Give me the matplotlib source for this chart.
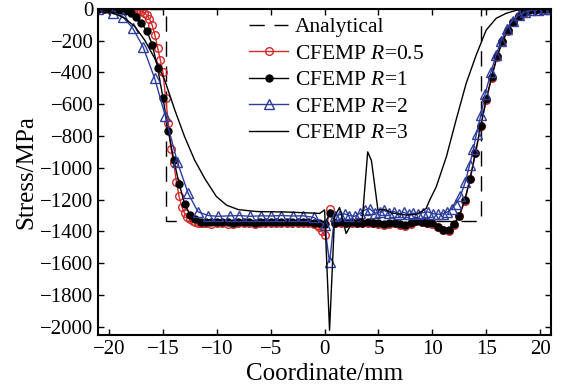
import numpy as np
import matplotlib
matplotlib.use('Agg')
import matplotlib.pyplot as plt

plt.rcParams['font.family'] = ['Liberation Serif', 'DejaVu Serif']
plt.rcParams['mathtext.fontset'] = 'custom'
plt.rcParams['mathtext.it'] = 'Liberation Serif:italic'
plt.rcParams['mathtext.rm'] = 'Liberation Serif'

# analytical solution (step)
x_an = [-21, -14.75, -14.75, 14.5, 14.5, 21]
y_an = [0, 0, -1335, -1335, 0, 0]

# CFEMP R=0.5
x_r05 = [-21, -20.5, -20, -19.5, -19, -18.5, -18, -17.75, -17.5, -17.25, -17, -16.75,
         -16.5, -16.25, -16, -15.75, -15.5, -15.25, -15, -14.75, -14.5, -14.25, -14,
         -13.75, -13.5, -13.25, -13, -12.75, -12.5, -12.25, -12, -11.75, -11.5, -11.25,
         -11, -10.5, -10, -9.5, -9, -8.5, -8, -7.5, -7, -6.5, -6, -5.5, -5, -4.5, -4,
         -3.5, -3, -2.5, -2, -1.5, -1, -0.75, -0.5, -0.25, 0, 0.5, 1, 1.5, 2, 2.5, 3,
         3.5, 4, 4.5, 5, 5.5, 6, 6.5, 7, 7.5, 8, 8.5, 9, 9.5, 10, 10.5, 11, 11.5, 12,
         12.5, 13, 13.5, 14, 14.5, 15, 15.5, 16, 16.5, 17, 17.5, 18, 18.5, 19, 19.5,
         20, 20.5, 21]
y_r05 = [0, 0, 0, 0, -1, -2, -4, -5, -7, -10, -16, -25,
         -40, -65, -103, -165, -245, -320, -400, -560, -720, -880, -970,
         -1090, -1180, -1245, -1285, -1310, -1325, -1335, -1342, -1346, -1348, -1350,
         -1350, -1352, -1350, -1348, -1352, -1355, -1350, -1348, -1350, -1352, -1350,
         -1348, -1346, -1348, -1350, -1348, -1346, -1348, -1350, -1350, -1352, -1360,
         -1375, -1400, -1425, -1262, -1348, -1345, -1350, -1347, -1350, -1350, -1347,
         -1350, -1355, -1357, -1353, -1350, -1357, -1363, -1353, -1337, -1343, -1350,
         -1355, -1375, -1393, -1395, -1360, -1305, -1210, -1073, -910, -740, -573,
         -435, -305, -210, -140, -85, -47, -24, -11, -6, -3, -1, 0]

# CFEMP R=1
x_r1 = [-21, -20.5, -20, -19.5, -19, -18.5, -18, -17.5, -17, -16.5, -16, -15.5, -15,
        -14.5, -14, -13.5, -13, -12.5, -12, -11.5, -11, -10.5, -10, -9.5, -9, -8.5, -8,
        -7.5, -7, -6.5, -6, -5.5, -5, -4.5, -4, -3.5, -3, -2.5, -2, -1.5, -1, -0.5, 0,
        0.5, 1, 1.5, 2, 2.5, 3, 3.5, 4, 4.5, 5, 5.5, 6, 6.5, 7, 7.5, 8, 8.5, 9, 9.5,
        10, 10.5, 11, 11.5, 12, 12.5, 13, 13.5, 14, 14.5, 15, 15.5, 16, 16.5, 17, 17.5,
        18, 18.5, 19, 19.5, 20, 20.5, 21]
y_r1 = [-1, -2, -3, -5, -8, -14, -28, -50, -90, -140, -225, -370, -560,
        -770, -950, -1100, -1225, -1295, -1325, -1338, -1342, -1343, -1342, -1340,
        -1342, -1345, -1343, -1340, -1342, -1344, -1342, -1340, -1338, -1340, -1342,
        -1340, -1338, -1340, -1342, -1340, -1345, -1350, -1355, -1285, -1345, -1340,
        -1345, -1342, -1345, -1345, -1342, -1345, -1350, -1352, -1348, -1345, -1352,
        -1358, -1348, -1332, -1338, -1345, -1350, -1370, -1388, -1390, -1355, -1300,
        -1205, -1068, -905, -735, -568, -430, -300, -205, -135, -82, -45, -22, -10, -5,
        -2, -1, 0]

# CFEMP R=2
x_r2 = [-21, -19.6, -18.7, -17.8, -16.85, -15.77, -14.78, -13.67, -12.66, -11.75,
        -10.8, -9.9, -8.8, -7.9, -6.96, -5.87, -4.94, -4.0, -2.94, -2.0, -1.0, 0.0,
        0.46, 0.93, 1.4, 1.85, 2.3, 2.8, 3.3, 3.75, 4.2, 4.65, 5.1, 5.55, 6.0, 6.45,
        6.9, 7.35, 7.8, 8.25, 8.7, 9.15, 9.6, 10.05, 10.5, 10.95, 11.4, 11.8, 12.2,
        12.6, 13.05, 13.45, 13.8, 14.1, 14.5, 14.9, 15.45, 15.9, 16.4, 16.9, 17.45,
        18.0, 18.6, 19.2, 19.8, 20.4, 20.9]
y_r2 = [-3, -25, -52, -123, -239, -438, -675, -962, -1161, -1277,
        -1300, -1305, -1302, -1300, -1305, -1302, -1303, -1300, -1303, -1302, -1312,
        -1360, -1595, -1305, -1295, -1290, -1300, -1305, -1285, -1265, -1258, -1285,
        -1280, -1268, -1285, -1275, -1290, -1280, -1292, -1285, -1290, -1282, -1278,
        -1288, -1292, -1290, -1278, -1258, -1225, -1180, -1090, -985, -885, -785,
        -670, -535, -398, -292, -200, -125, -75, -42, -22, -10, -5, -2, 0]

# CFEMP R=3
x_r3 = [-21, -20.8, -19.5, -18.55, -17.6, -16.7, -15.77, -14.84, -13.9, -12.99,
        -12.06, -11.1, -10.05, -9.1, -8.0, -6.3, -3.55, -1.0, -0.46, 0.0, 0.46, 0.93,
        1.39, 2.0, 2.47, 3.1, 3.5, 4.0, 4.35, 4.95, 5.57, 6.3, 7.6, 8.5, 9.0, 9.43,
        9.74, 10.36, 11.3, 12.2, 13.14, 14.07, 15.0, 15.93, 16.85, 17.8, 19.0, 20.5,
        21]
y_r3 = [0, -2, -29, -60, -113, -197, -312, -448, -637, -805,
        -952, -1070, -1180, -1235, -1263, -1275, -1278, -1285, -1287, -1265, -2022,
        -1305, -1250, -1413, -1355, -1330, -1322, -900, -955, -1266, -1262, -1285,
        -1297, -1292, -1275, -1255, -1205, -1120, -931, -700, -469, -291, -134, -60,
        -29, -10, -3, 0, 0]

fig = plt.figure(figsize=(5.65, 3.87), dpi=100)
ax = fig.add_axes([0.174, 0.134, 0.801, 0.8435])

ax.plot(x_an, y_an, color='k', lw=1.0, dashes=(11, 7), label='Analytical')
ax.plot(x_r05, y_r05, color='#d42a2a', lw=1.0, marker='o', ms=5.5, mfc='none',
        mew=1.0, label='CFEMP $R$=0.5')
ax.plot(x_r1, y_r1, color='k', lw=1.0, marker='o', ms=5, label='CFEMP $R$=1')
ax.plot(x_r2, y_r2, color='#2c3d9c', lw=1.0, marker='^', ms=6.5, mfc='none',
        mew=1.0, label='CFEMP $R$=2')
ax.plot(x_r3, y_r3, color='k', lw=1.0, label='CFEMP $R$=3')

ax.set_xlim(-21, 21)
ax.set_ylim(-2052, 0)
ax.set_xticks(np.arange(-20, 21, 5))
ax.set_yticks(np.arange(-2000, 1, 200))
ax.tick_params(direction='in', top=True, right=True, labelsize=15, length=4, width=1)
for s in ax.spines.values():
    s.set_linewidth(1.5)

ax.set_xlabel('Coordinate/mm', fontsize=18, labelpad=3)
ax.set_ylabel('Stress/MPa', fontsize=18, labelpad=2)

ax.legend(loc='upper left', bbox_to_anchor=(0.315, 1.0), frameon=False, fontsize=15.5,
          handlelength=1.8, handletextpad=0.3, labelspacing=0.3, borderaxespad=0.2,
          borderpad=0.2)

fig.savefig('out.png', dpi=100)
